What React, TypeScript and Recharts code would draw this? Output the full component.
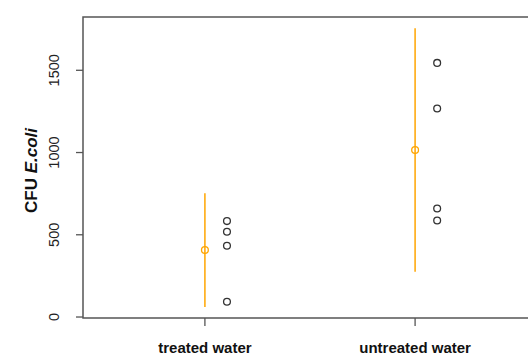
import React from "react";
import {
  ComposedChart,
  Scatter,
  ErrorBar,
  XAxis,
  YAxis,
  ReferenceArea,
  Label,
} from "recharts";

// values
const categories = ["treated water", "untreated water"];
const treatedCounts = [583, 518, 433, 93];
const untreatedCounts = [1545, 1268, 660, 587];
const groupMeans = [407, 1015];
const ciHalfWidth = [346, 740];
const yTicks = [0, 500, 1000, 1500];

const X_DOMAIN: [number, number] = [0.42, 2.58];
const Y_DOMAIN: [number, number] = [-6, 1824];
const POINT_SHIFT = 0.105; // raw points drawn to the right of each mean
const ORANGE = "#FFA500";
const FONT = "'Liberation Sans', Arial, sans-serif";

const rawPoints = [treatedCounts, untreatedCounts].flatMap((vals, i) =>
  vals.map((v) => ({ x: i + 1 + POINT_SHIFT, y: v }))
);
const meanPoints = groupMeans.map((m, i) => ({
  x: i + 1,
  y: m,
  ci: ciHalfWidth[i],
}));

const OpenDot = (color: string) => (props: any) => (
  <circle
    cx={props.cx}
    cy={props.cy}
    r={3.4}
    fill="none"
    stroke={color}
    strokeWidth={1.3}
  />
);

const YTick = (props: any) => {
  const { x, y, payload } = props;
  const tx = x - 15;
  return (
    <text
      x={tx}
      y={y}
      transform={`rotate(-90, ${tx}, ${y})`}
      textAnchor="middle"
      fontFamily={FONT}
      fontSize={14.5}
      fill="#222"
    >
      {payload.value}
    </text>
  );
};

const XTick = (props: any) => {
  const { x, payload } = props;
  return (
    <text
      x={x}
      y={353}
      textAnchor="middle"
      fontFamily={FONT}
      fontSize={15}
      fontWeight="bold"
      fill="#111"
    >
      {categories[payload.value - 1]}
    </text>
  );
};

const YLabel = (props: any) => {
  const { viewBox } = props;
  const x = 37;
  const y = viewBox.y + viewBox.height / 2 + 3;
  return (
    <text
      x={x}
      y={y}
      transform={`rotate(-90, ${x}, ${y})`}
      textAnchor="middle"
      fontFamily={FONT}
      fontSize={17}
      fontWeight="bold"
      fill="#111"
    >
      CFU <tspan fontStyle="italic">E.coli</tspan>
    </text>
  );
};

export default function App() {
  return (
    <div
      style={{
        position: "absolute",
        left: 0,
        top: 0,
        width: 528,
        height: 356,
        overflow: "hidden",
        background: "#fff",
      }}
    >
      <ComposedChart
        width={537}
        height={356}
        margin={{ top: 17, right: 0, bottom: 0, left: 0 }}
      >
        <XAxis
          type="number"
          dataKey="x"
          domain={X_DOMAIN}
          ticks={[1, 2]}
          allowDataOverflow
          height={38}
          axisLine={false}
          tickSize={8}
          tickLine={{ stroke: "#555", strokeWidth: 1.3 }}
          tick={<XTick />}
        />
        <YAxis
          type="number"
          dataKey="y"
          domain={Y_DOMAIN}
          ticks={yTicks}
          allowDataOverflow
          width={83}
          axisLine={false}
          tickSize={7}
          tickLine={{ stroke: "#555", strokeWidth: 1.3 }}
          tick={<YTick />}
        >
          <Label content={<YLabel />} />
        </YAxis>
        <ReferenceArea
          x1={X_DOMAIN[0]}
          x2={X_DOMAIN[1]}
          y1={Y_DOMAIN[0]}
          y2={Y_DOMAIN[1]}
          fill="none"
          stroke="#555"
          strokeWidth={1.5}
          ifOverflow="visible"
        />
        <Scatter
          data={meanPoints}
          shape={OpenDot(ORANGE)}
          isAnimationActive={false}
        >
          <ErrorBar
            dataKey="ci"
            direction="y"
            width={0}
            stroke={ORANGE}
            strokeWidth={1.5}
            isAnimationActive={false}
          />
        </Scatter>
        <Scatter
          data={rawPoints}
          shape={OpenDot("#333")}
          isAnimationActive={false}
        />
      </ComposedChart>
    </div>
  );
}
